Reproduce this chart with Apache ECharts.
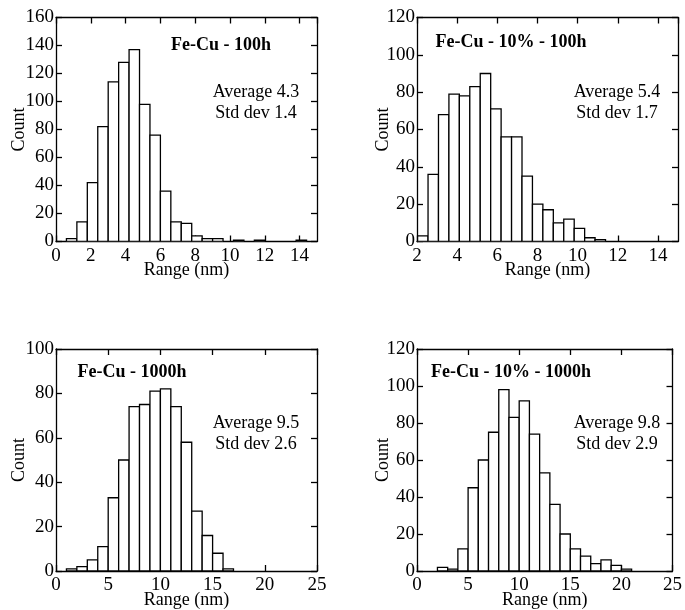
<!DOCTYPE html>
<html>
<head>
<meta charset="utf-8">
<script src="https://cdn.jsdelivr.net/npm/echarts@6/dist/echarts.min.js"></script>
<style>
html,body{margin:0;padding:0;background:#fff;}
#c{width:685px;height:610px;}
</style>
</head>
<body>
<div id="c"></div>
<script>
// ---- data ----
const panelTitles = ['Fe-Cu - 100h', 'Fe-Cu - 10% - 100h', 'Fe-Cu - 1000h', 'Fe-Cu - 10% - 1000h'];
const panelStats = [['Average 4.3', 'Std dev 1.4'], ['Average 5.4', 'Std dev 1.7'], ['Average 9.5', 'Std dev 2.6'], ['Average 9.8', 'Std dev 2.9']];

// panel 1: bin lower edges (nm), bin width 0.6
const p1Edges = [0.6, 1.2, 1.8, 2.4, 3.0, 3.6, 4.2, 4.8, 5.4, 6.0, 6.6, 7.2, 7.8, 8.4, 9.0, 9.6, 10.2, 10.8, 11.4, 12.0, 12.6, 13.2, 13.8];
const p1Width = 0.6;
const p1Counts = [2, 14, 42, 82, 114, 128, 137, 98, 76, 36, 14, 13, 4, 2, 2, 0, 1, 0, 1, 0, 0, 0, 1];

// panel 2: bin width 0.52
const p2Edges = [2.03, 2.55, 3.07, 3.59, 4.11, 4.63, 5.15, 5.67, 6.19, 6.71, 7.23, 7.75, 8.27, 8.79, 9.31, 9.83, 10.35, 10.87];
const p2Width = 0.52;
const p2Counts = [3, 36, 68, 79, 78, 83, 90, 71, 56, 56, 35, 20, 17, 10, 12, 7, 2, 1];

// panel 3: bin width 1
const p3Edges = [1, 2, 3, 4, 5, 6, 7, 8, 9, 10, 11, 12, 13, 14, 15, 16];
const p3Width = 1;
const p3Counts = [1, 2, 5, 11, 33, 50, 74, 75, 81, 82, 74, 58, 27, 16, 8, 1];

// panel 4: bin width 1
const p4Edges = [2, 3, 4, 5, 6, 7, 8, 9, 10, 11, 12, 13, 14, 15, 16, 17, 18, 19, 20];
const p4Width = 1;
const p4Counts = [2, 1, 12, 45, 60, 75, 98, 83, 92, 74, 53, 36, 20, 12, 8, 4, 6, 3, 1];

// axis ranges
const xRanges = [[0, 15, 2], [2, 15, 2], [0, 25, 5], [0, 25, 5]];
const yRanges = [[0, 160, 20], [0, 120, 20], [0, 100, 20], [0, 120, 20]];
const showXMax = [false, false, true, true];

// ---- layout ----
const grids = [
  {left: 56, top: 17.5, width: 261, height: 224},
  {left: 417, top: 17.5, width: 261, height: 224},
  {left: 56, top: 349, width: 261, height: 224},
  {left: 417, top: 349, width: 261, height: 224}
];
const countGaps = [28, 25, 28, 25];
const FONT = '"Liberation Serif", "Times New Roman", serif';

const panels = [
  {edges: p1Edges, w: p1Width, counts: p1Counts},
  {edges: p2Edges, w: p2Width, counts: p2Counts},
  {edges: p3Edges, w: p3Width, counts: p3Counts},
  {edges: p4Edges, w: p4Width, counts: p4Counts}
];

const xAxes = [], yAxes = [], series = [], graphics = [];
const lineStyle = {color: '#000', width: 1.3};
panels.forEach((p, i) => {
  const [xmin, xmax, xint] = xRanges[i];
  const [ymin, ymax, yint] = yRanges[i];
  xAxes.push({
    type: 'value', gridIndex: i, position: 'bottom', min: xmin, max: xmax, interval: xint,
    axisLine: {show: true, onZero: false, lineStyle},
    axisTick: {show: true, inside: true, length: 6, lineStyle},
    axisLabel: {show: true, color: '#000', fontFamily: FONT, fontSize: 19, margin: 5, showMaxLabel: showXMax[i], hideOverlap: false},
    splitLine: {show: false},
    name: 'Range (nm)', nameLocation: 'middle', nameGap: 20, nameMoveOverlap: false,
    nameTextStyle: {color: '#000', fontFamily: FONT, fontSize: 18}
  });
  xAxes.push({
    type: 'value', gridIndex: i, position: 'top', min: xmin, max: xmax, interval: xint,
    axisLine: {show: true, onZero: false, lineStyle},
    axisTick: {show: true, inside: true, length: 6, lineStyle},
    axisLabel: {show: false}, splitLine: {show: false}
  });
  yAxes.push({
    type: 'value', gridIndex: i, position: 'left', min: ymin, max: ymax, interval: yint,
    axisLine: {show: true, onZero: false, lineStyle},
    axisTick: {show: true, inside: true, length: 6, lineStyle},
    axisLabel: {show: true, color: '#000', fontFamily: FONT, fontSize: 19, margin: 2},
    splitLine: {show: false},
    name: 'Count', nameLocation: 'middle', nameGap: countGaps[i], nameMoveOverlap: false,
    nameTextStyle: {color: '#000', fontFamily: FONT, fontSize: 18}
  });
  yAxes.push({
    type: 'value', gridIndex: i, position: 'right', min: ymin, max: ymax, interval: yint,
    axisLine: {show: true, onZero: false, lineStyle},
    axisTick: {show: true, inside: true, length: 6, lineStyle},
    axisLabel: {show: false}, splitLine: {show: false}
  });
  const data = p.edges.map((e, k) => [e, e + p.w, p.counts[k]]);
  series.push({
    type: 'custom', xAxisIndex: 2 * i, yAxisIndex: 2 * i, clip: true,
    data: data,
    renderItem: function (params, api) {
      const x0 = api.value(0), x1 = api.value(1), c = api.value(2);
      if (!c) return null;
      const a = api.coord([x0, c]);
      const b = api.coord([x1, 0]);
      return {
        type: 'rect',
        shape: {x: a[0], y: a[1], width: b[0] - a[0], height: b[1] - a[1]},
        style: {fill: '#fff', stroke: '#000', lineWidth: 1.3}
      };
    }
  });
});

const titlePos = [[221, 45], [511, 42], [132, 372], [511, 372]];
const statPos = [[256, 92], [617, 92], [256, 423], [617, 423]];
titlePos.forEach((pos, i) => {
  graphics.push({
    type: 'text', x: pos[0], y: pos[1], z: 100,
    style: {text: panelTitles[i], fill: '#000', font: 'bold 18px ' + FONT, textAlign: 'center', textVerticalAlign: 'middle'}
  });
  graphics.push({
    type: 'text', x: statPos[i][0], y: statPos[i][1], z: 100,
    style: {text: panelStats[i][0], fill: '#000', font: '18px ' + FONT, textAlign: 'center', textVerticalAlign: 'middle'}
  });
  graphics.push({
    type: 'text', x: statPos[i][0], y: statPos[i][1] + 21, z: 100,
    style: {text: panelStats[i][1], fill: '#000', font: '18px ' + FONT, textAlign: 'center', textVerticalAlign: 'middle'}
  });
});

const chart = echarts.init(document.getElementById('c'), null, {renderer: 'canvas'});
chart.setOption({
  backgroundColor: '#fff',
  animation: false,
  grid: grids,
  xAxis: xAxes,
  yAxis: yAxes,
  series: series,
  graphic: graphics
});
</script>
</body>
</html>
